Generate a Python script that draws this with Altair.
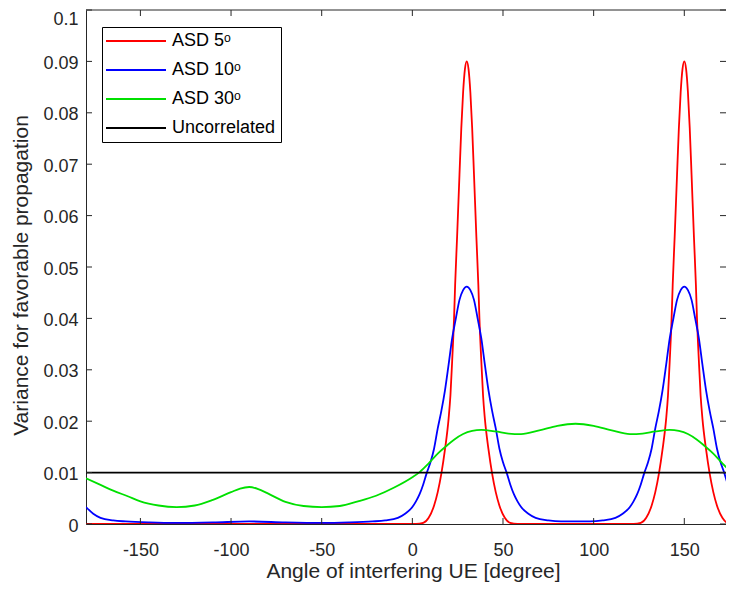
import altair as alt
import pandas as pd

# ---- data ----
red_deg = [-180, -170, -150, -120, -90, -60, -30, -10, 0, 2, 6, 9, 12, 14, 16, 18, 20, 21, 22, 23,
           23.6, 24.7, 26, 27, 28, 29, 30, 31, 32, 33, 34, 35.3, 36.4, 37, 38, 39, 40, 42, 44, 46,
           48, 51, 54, 58, 70, 90, 110, 122, 126, 129, 132, 134, 136, 138, 140, 141, 142, 143,
           143.6, 144.7, 146, 147, 148, 149, 150, 151, 152, 153, 154, 155.3, 156.4, 157, 158, 159,
           160, 162, 164, 166, 168, 171, 174, 178, 180]
red_val = [0.0, 0.0, 0.0, 0.0, 0.0, 0.0, 0.0, 0.0, 0.0, 0.0, 0.0002, 0.0012, 0.0036, 0.0062, 0.0098,
           0.0145, 0.0205, 0.0250, 0.0320, 0.0400, 0.0465, 0.0560, 0.0680, 0.0770, 0.0840, 0.0885,
           0.0900, 0.0885, 0.0840, 0.0770, 0.0680, 0.0560, 0.0465, 0.0400, 0.0320, 0.0250, 0.0205,
           0.0145, 0.0098, 0.0062, 0.0036, 0.0012, 0.0002, 0.0, 0.0, 0.0, 0.0, 0.0, 0.0002, 0.0012,
           0.0036, 0.0062, 0.0098, 0.0145, 0.0205, 0.0250, 0.0320, 0.0400, 0.0465, 0.0560, 0.0680,
           0.0770, 0.0840, 0.0885, 0.0900, 0.0885, 0.0840, 0.0770, 0.0680, 0.0560, 0.0465, 0.0400,
           0.0320, 0.0250, 0.0205, 0.0145, 0.0098, 0.0062, 0.0036, 0.0012, 0.0002, 0.0, 0.0]

blue_deg = [-180, -176, -172, -165, -158, -145, -130, -110, -90, -70, -50, -35, -22, -15, -8, -4, 0,
            2, 4, 6, 8, 10, 12, 14, 16, 18, 20, 22, 24, 26, 28, 30, 32, 34, 36, 38, 40, 42, 44, 46,
            48, 50, 52, 54, 56, 58, 60, 64, 68, 75, 82, 90, 98, 105, 112, 116, 120, 122, 124, 126,
            128, 130, 132, 134, 136, 138, 140, 142, 144, 146, 148, 150, 152, 154, 156, 158, 160,
            162, 164, 166, 168, 170, 172, 174, 176, 178, 180]
blue_val = [0.0033, 0.0020, 0.0012, 0.0007, 0.0005, 0.0003, 0.0002, 0.0003, 0.0005, 0.0003, 0.0002,
            0.0003, 0.0005, 0.0007, 0.0012, 0.0020, 0.0033, 0.0044, 0.0058, 0.0077, 0.0100, 0.0120,
            0.0147, 0.0186, 0.0220, 0.0260, 0.0310, 0.0362, 0.0400, 0.0436, 0.0455, 0.0462, 0.0455,
            0.0436, 0.0400, 0.0362, 0.0310, 0.0260, 0.0220, 0.0186, 0.0147, 0.0120, 0.0100, 0.0077,
            0.0058, 0.0044, 0.0033, 0.0020, 0.0012, 0.0007, 0.0005, 0.0005, 0.0005, 0.0007, 0.0012,
            0.0020, 0.0033, 0.0044, 0.0058, 0.0077, 0.0100, 0.0120, 0.0147, 0.0186, 0.0220, 0.0260,
            0.0310, 0.0362, 0.0400, 0.0436, 0.0455, 0.0462, 0.0455, 0.0436, 0.0400, 0.0362, 0.0310,
            0.0260, 0.0220, 0.0186, 0.0147, 0.0120, 0.0100, 0.0077, 0.0058, 0.0044, 0.0033]

green_deg = [-180, -172, -165, -157, -150, -140, -130, -120, -110, -100, -95, -90, -85, -80, -70,
             -60, -50, -40, -30, -20, -10, 0, 4, 9, 14, 18.5, 23, 28, 33, 38, 46, 53, 60, 70, 80,
             90, 100, 110, 120, 127, 134, 142, 147, 152, 157, 161.5, 166, 171, 176, 180]
green_val = [0.0089, 0.0076, 0.0065, 0.0054, 0.0044, 0.0036, 0.0033, 0.0036, 0.0047, 0.0062, 0.0069,
             0.0072, 0.0068, 0.0060, 0.0043, 0.0035, 0.0033, 0.0035, 0.0044, 0.0055, 0.0071, 0.0091,
             0.0101, 0.0118, 0.0137, 0.0151, 0.0164, 0.0175, 0.0181, 0.0183, 0.0180, 0.0176, 0.0175,
             0.0182, 0.0191, 0.0195, 0.0191, 0.0182, 0.0175, 0.0176, 0.0180, 0.0183, 0.0181, 0.0175,
             0.0164, 0.0151, 0.0137, 0.0118, 0.0101, 0.0091]

unc_deg = [-180, 180]
unc_val = [0.01, 0.01]

series_names = ["ASD 5\u1d52", "ASD 10\u1d52", "ASD 30\u1d52", "Uncorrelated"]
series_colors = ["#ff0000", "#0000ff", "#00e000", "#000000"]

x_ticks = [-150, -100, -50, 0, 50, 100, 150]
y_ticks = [0, 0.01, 0.02, 0.03, 0.04, 0.05, 0.06, 0.07, 0.08, 0.09, 0.1]

frames = []
for name, xs, ys in zip(series_names,
                        [red_deg, blue_deg, green_deg, unc_deg],
                        [red_val, blue_val, green_val, unc_val]):
    frames.append(pd.DataFrame({"angle": xs, "var": ys, "series": name}))
df = pd.concat(frames, ignore_index=True)

W, H = 640, 514
AX = "#262626"
FONT = "Liberation Sans"

xscale = alt.Scale(domain=[-180, 173], nice=False, zero=False)
yscale = alt.Scale(domain=[0, 0.1], nice=False, zero=False)

common = dict(grid=False, ticks=False, domainColor=AX, domainWidth=1,
              labelColor=AX, titleColor=AX, labelFont=FONT, titleFont=FONT,
              titleFontWeight="normal", labelFontSize=18, titleFontSize=21)

x_axis = alt.Axis(values=x_ticks, title="Angle of interfering UE [degree]",
                  labelExpr="'' + datum.value", labelPadding=17,
                  titleX=327, titleY=53, titleAlign="center", titleBaseline="alphabetic",
                  **common)
y_axis = alt.Axis(values=y_ticks, format="~g", title="Variance for favorable propagation",
                  labelPadding=8,
                  labelOffset={"condition": {"test": "datum.value >= 0.099", "value": 9},
                               "value": 2},
                  titleX=-59, titleY=H / 2 + 8, titleAngle=270,
                  titleAlign="center", titleBaseline="alphabetic", **common)

lines = alt.Chart(df).mark_line(strokeWidth=1.8, clip=True, interpolate="monotone").encode(
    x=alt.X("angle:Q", scale=xscale, axis=x_axis),
    y=alt.Y("var:Q", scale=yscale, axis=y_axis),
    color=alt.Color("series:N", sort=series_names,
                    scale=alt.Scale(domain=series_names, range=series_colors),
                    legend=alt.Legend(title=None, orient="none", legendX=16, legendY=17,
                                      symbolType="M-2,0H10", symbolSize=100,
                                      symbolStrokeWidth=1.8, labelFontSize=18,
                                      labelFont=FONT, labelColor="#000000",
                                      strokeColor="#000000", fillColor="#ffffff",
                                      padding=5, rowPadding=11, labelOffset=47)),
)

xt = pd.DataFrame({"angle": x_ticks})
yt = pd.DataFrame({"var": y_ticks})

bottom_ticks = alt.Chart(xt).mark_rule(color=AX, strokeWidth=1).encode(
    x=alt.X("angle:Q", scale=xscale, axis=x_axis), y=alt.value(H), y2=alt.value(H - 6))
top_ticks = alt.Chart(xt).mark_rule(color=AX, strokeWidth=1).encode(
    x=alt.X("angle:Q", scale=xscale, axis=x_axis), y=alt.value(0), y2=alt.value(6))
left_ticks = alt.Chart(yt).mark_rule(color=AX, strokeWidth=1).encode(
    y=alt.Y("var:Q", scale=yscale, axis=y_axis), x=alt.value(0), x2=alt.value(6))
right_ticks = alt.Chart(yt).mark_rule(color=AX, strokeWidth=1).encode(
    y=alt.Y("var:Q", scale=yscale, axis=y_axis), x=alt.value(W - 6), x2=alt.value(W))
top_border = alt.Chart(pd.DataFrame({"a": [0]})).mark_rule(color=AX, strokeWidth=1).encode(
    x=alt.value(0), x2=alt.value(W), y=alt.value(0))

chart = alt.layer(lines, bottom_ticks, top_ticks, left_ticks, right_ticks, top_border).properties(
    width=W, height=H,
    autosize=alt.AutoSizeParams(type="none"),
    padding={"left": 78, "top": 2, "right": 0, "bottom": 58},
    background="#ffffff",
).configure_view(stroke=None)

chart.save("out.html", embed_options={"renderer": "svg", "actions": False})
